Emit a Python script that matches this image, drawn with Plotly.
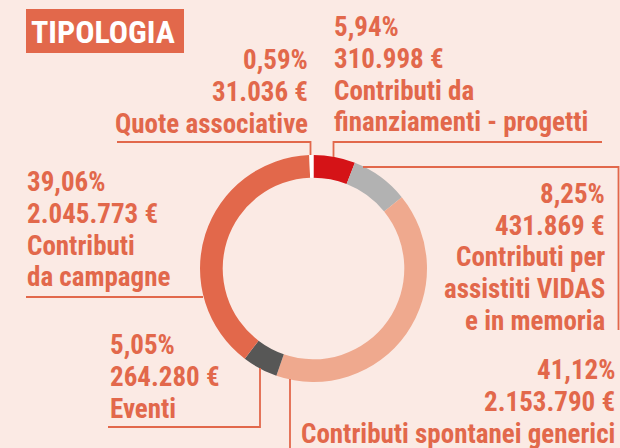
import plotly.graph_objects as go

# ---- data (clockwise from 12 o'clock) ----
categories = ["Contributi da\nfinanziamenti - progetti",
              "Contributi per\nassistiti VIDAS\ne in memoria",
              "Contributi spontanei generici",
              "Eventi",
              "Contributi\nda campagne",
              "Quote associative"]
amounts = [310998, 431869, 2153790, 264280, 2045773, 31036]
pct_labels = ["5,94%", "8,25%", "41,12%", "5,05%", "39,06%", "0,59%"]
amount_labels = ["310.998 €", "431.869 €", "2.153.790 €", "264.280 €", "2.045.773 €", "31.036 €"]
title_text = "TIPOLOGIA"

# ---- style ----
W, H = 620, 448
BG = "#FBEAE4"
ORANGE = "#E2684B"
slice_colors = ["#D51317", "#B2B2B2", "#EFA98E", "#575756", "#E2684B", "#FFFFFF"]
FONT = "Roboto Condensed, Open Sans Condensed, DejaVu Sans Condensed, sans-serif"
FS = 27
LINE = 31.7

# label block placement: (x, xanchor, first baseline)
blocks = [
    (332, "left", 35),
    (607, "right", 201.7),
    (617, "right", 378.3),
    (107.5, "left", 353.3),
    (24.5, "left", 190),
    (310, "right", 68.3),
]
# leader polylines in pixel coords
leaders = [
    [(602, 142), (333.5, 142), (333.5, 157)],
    [(363, 167), (618.5, 167), (618.5, 330)],
    [(290, 379), (290, 448)],
    [(260, 368), (260, 427), (108, 427)],
    [(26, 297), (203, 297)],
    [(117, 142), (310.5, 142), (310.5, 155)],
]

cx, cy, R = 313.5, 268.5, 113.5

fig = go.Figure()
fig.add_trace(go.Pie(
    values=amounts, labels=[c.replace("\n", " ") for c in categories],
    sort=False, direction="clockwise", rotation=0, hole=0.8,
    marker=dict(colors=slice_colors, line=dict(width=0)),
    textinfo="none", hoverinfo="none", showlegend=False,
    domain=dict(x=[(cx - R) / W, (cx + R) / W], y=[(H - cy - R) / H, (H - cy + R) / H]),
))

annotations = []
for i, (x, anchor, y0) in enumerate(blocks):
    lines = [pct_labels[i], amount_labels[i]] + categories[i].split("\n")
    for k, t in enumerate(lines):
        base = y0 + k * LINE
        annotations.append(dict(
            x=x, y=base - 0.29 * FS, xref="x", yref="y", text="<b>%s</b>" % t,
            showarrow=False, xanchor=anchor, yanchor="middle",
            font=dict(family=FONT, size=FS, color=ORANGE)))

annotations.append(dict(x=103, y=32, xref="x", yref="y", text="<b>%s</b>" % title_text,
                        showarrow=False, xanchor="center", yanchor="middle",
                        font=dict(family=FONT, size=32, color="white")))

shapes = [dict(type="rect", xref="x", yref="y", x0=26, x1=184, y0=9, y1=53,
               fillcolor=ORANGE, line=dict(width=0), layer="below")]
for pts in leaders:
    path = "M " + " L ".join("%g,%g" % p for p in pts)
    shapes.append(dict(type="path", xref="x", yref="y", path=path,
                       line=dict(color=ORANGE, width=1.8)))

fig.update_layout(
    width=W, height=H, margin=dict(l=0, r=0, t=0, b=0),
    paper_bgcolor=BG, plot_bgcolor=BG,
    xaxis=dict(range=[0, W], visible=False, fixedrange=True),
    yaxis=dict(range=[H, 0], visible=False, fixedrange=True),
    annotations=annotations, shapes=shapes,
)
fig.write_html("out.html", config={"displayModeBar": False},
               post_script="document.body.style.margin='0';")
